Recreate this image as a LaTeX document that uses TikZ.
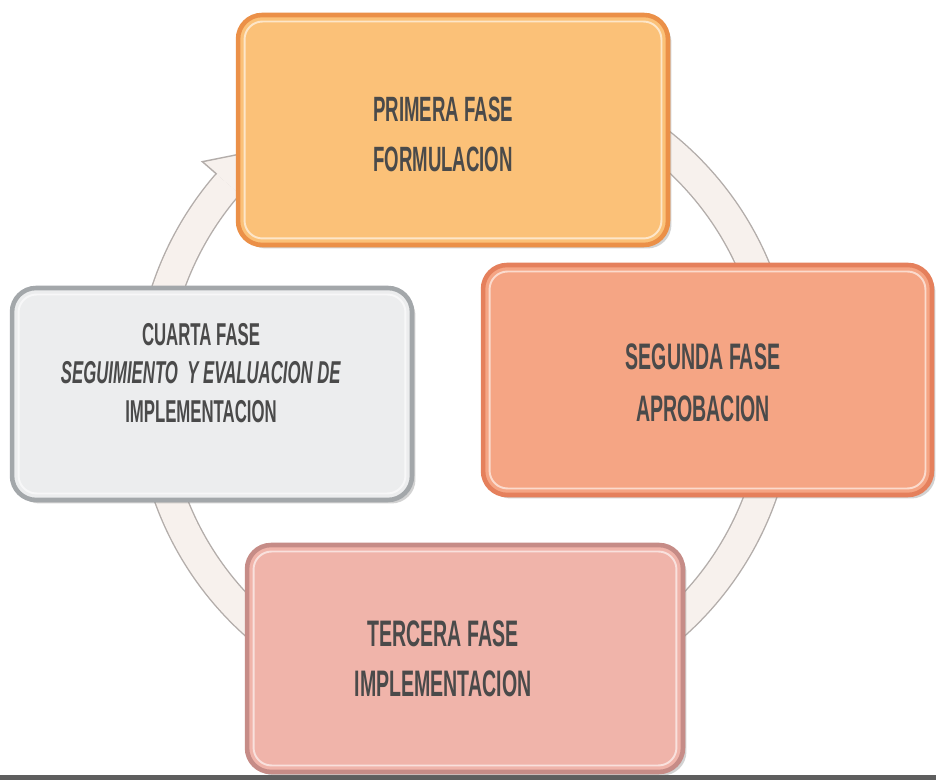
\documentclass[tikz,border=0pt]{standalone}
\usepackage{fontspec}
\newfontfamily\condfont{Liberation Sans}[FakeStretch=0.53,BoldFont={Liberation Sans Bold},BoldItalicFont={Liberation Sans Bold Italic}]
\usetikzlibrary{calc,shadows}
\definecolor{topfill}{HTML}{FBC178}
\definecolor{topedge}{HTML}{EB9048}
\definecolor{rightfill}{HTML}{F5A584}
\definecolor{rightedge}{HTML}{E5805C}
\definecolor{leftfill}{HTML}{ECEDEE}
\definecolor{leftedge}{HTML}{A3A7AA}
\definecolor{botfill}{HTML}{F0B4AA}
\definecolor{botedge}{HTML}{C68C87}
\definecolor{ringfill}{HTML}{F7F1ED}
\definecolor{ringedge}{HTML}{B3ADAA}
\definecolor{txtcol}{HTML}{4A4A4A}
\definecolor{barcol}{HTML}{5E5E5E}
\tikzset{
  phasebox/.style={rounded corners=0.48cm, line width=2.6pt, inner sep=0pt,
    drop shadow={shadow xshift=2pt, shadow yshift=-2pt, opacity=0.35}},
  hilite/.style={rounded corners=0.36cm, draw=white, draw opacity=0.6, line width=1.1pt},
  phasetext/.style={align=center, text=txtcol, inner sep=0pt},
  ringline/.style={draw=ringedge, line width=0.8pt, double=ringfill, double distance=0.6cm},
}
\begin{document}
\begin{tikzpicture}[x=0.02cm,y=0.02cm]
\useasboundingbox (0,0) rectangle (936,780);
\fill[white] (0,0) rectangle (936,780);
\fill[barcol] (0,0) rectangle (936,5);
\coordinate (c) at (465,390);
% cycle ring
\draw[ringline] ($(c)+(100:314)$) arc[start angle=100, end angle=-221, radius=314];
\fill[ringfill] ($(c)+(139:348)$) -- ($(c)+(130:314)$) -- ($(c)+(139:280)$) -- cycle;
\draw[ringedge, line width=0.8pt] ($(c)+(139:329)$) -- ($(c)+(139:348)$) -- ($(c)+(130:314)$) -- ($(c)+(139:280)$) -- ($(c)+(139:299)$);
% boxes
\node[phasebox, fill=topfill, draw=topedge, minimum width=8.6cm, minimum height=4.6cm] (top) at (453,650) {};
\draw[hilite] ([xshift=5pt,yshift=-5pt]top.north west) rectangle ([xshift=-5pt,yshift=5pt]top.south east);
\node[phasebox, fill=rightfill, draw=rightedge, minimum width=8.98cm, minimum height=4.6cm] (right) at (707.5,400) {};
\draw[hilite] ([xshift=5pt,yshift=-5pt]right.north west) rectangle ([xshift=-5pt,yshift=5pt]right.south east);
\node[phasebox, fill=leftfill, draw=leftedge, minimum width=8.0cm, minimum height=4.24cm] (left) at (212,386) {};
\draw[hilite] ([xshift=5pt,yshift=-5pt]left.north west) rectangle ([xshift=-5pt,yshift=5pt]left.south east);
\node[phasebox, fill=botfill, draw=botedge, minimum width=8.72cm, minimum height=4.54cm] (bottom) at (465,121.5) {};
\draw[hilite] ([xshift=5pt,yshift=-5pt]bottom.north west) rectangle ([xshift=-5pt,yshift=5pt]bottom.south east);
% texts
\node[phasetext, font=\condfont\bfseries\fontsize{20}{28.5}\selectfont] (t1) at (443,645.5) {PRIMERA FASE\\FORMULACION};
\node[phasetext, font=\condfont\bfseries\fontsize{21}{29.6}\selectfont] (t2) at (703,397.5) {SEGUNDA FASE\\APROBACION};
\node[phasetext, font=\condfont\bfseries\fontsize{21}{28.5}\selectfont] (t3) at (443,121) {TERCERA FASE\\IMPLEMENTACION};
\node[phasetext, font=\condfont\bfseries\fontsize{18}{22}\selectfont] (t4) at (201,407) {CUARTA FASE\\\textit{SEGUIMIENTO\ \ Y EVALUACION DE}\\IMPLEMENTACION};
\end{tikzpicture}
\end{document}
